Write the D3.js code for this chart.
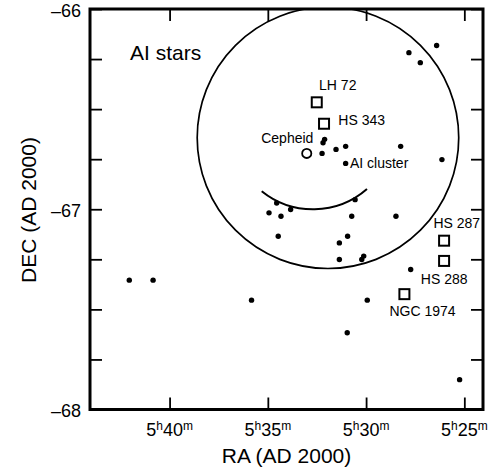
<!DOCTYPE html>
<html>
<head>
<meta charset="utf-8">
<script src="https://cdn.jsdelivr.net/npm/d3@7"></script>
<style>
    body { margin: 0; background: #fff; }
    svg { font-family: 'Liberation Sans', Arial, sans-serif; }
</style>
</head>
<body>
<svg width="497" height="470"></svg>
<script>
// RA is given in minutes past 5h, DEC in degrees
var starRA = [42.05, 40.84, 35.83, 29.94, 30.96, 25.24, 27.82, 26.41, 27.24, 28.24,
    26.14, 32.11, 32.19, 32.24, 31.53, 31.04, 31.04, 34.55, 34.94, 34.33,
    33.84, 30.56, 30.73, 34.47, 30.94, 31.36, 31.36, 30.22, 30.12, 28.48, 27.73];
var starDec = [-67.354, -67.354, -67.454, -67.454, -67.617, -67.851, -66.218, -66.182, -66.268, -66.686,
    -66.752, -66.651, -66.668, -66.721, -66.701, -66.686, -66.771, -66.969, -67.018, -67.035,
    -67.001, -66.952, -67.035, -67.135, -67.135, -67.168, -67.251, -67.251, -67.234, -67.035, -67.301];

var clusterNames = ['LH 72', 'HS 343', 'HS 287', 'HS 288', 'NGC 1974'];
var clusterRA = [32.51, 32.14, 26.03, 26.03, 28.05];
var clusterDec = [-66.466, -66.573, -67.157, -67.258, -67.424];

var cepheidRA = [33.02];
var cepheidDec = [-66.721];

// star index 16 is the AI cluster
var aiClusterIndex = 16;

// big circle (centre RA, DEC, radius in deg) and the small arc
var fieldCentre = [31.94, -66.643];
var fieldRadius = 0.653;
var arcCentre = [32.70, -66.591];
var arcRadius = 0.409;
var arcAngles = [48.8, 128.8];

var raTicks = [40, 35, 30, 25];
var decTicks = [-66, -66.25, -66.5, -66.75, -67, -67.25, -67.5, -67.75, -68];
var decLabels = [-66, -67, -68];

// label offsets (px) from their marker
var labelLayout = {
    'LH 72': {dx: 2.3, dy: -12.5, anchor: 'start'},
    'HS 343': {dx: 14.3, dy: 1.7, anchor: 'start'},
    'HS 287': {dx: -10.7, dy: -13.2, anchor: 'start'},
    'HS 288': {dx: -23.3, dy: 22.6, anchor: 'start'},
    'NGC 1974': {dx: -15, dy: 22, anchor: 'start'},
    'Cepheid': {dx: 6.6, dy: -10, anchor: 'end'},
    'AI cluster': {dx: 4.3, dy: 5, anchor: 'start'}
};

var svg = d3.select('svg');
var plot = {l: 90, r: 483, t: 9, b: 409.5};

var xScale = d3.scaleLinear()
    .domain([44.05, 24.05])
    .range([plot.l, plot.r]);
var yScale = d3.scaleLinear()
    .domain([-66, -68])
    .range([plot.t, plot.b]);

svg.append('clipPath')
    .attr('id', 'plotClip')
    .append('rect')
    .attr('x', plot.l)
    .attr('y', plot.t)
    .attr('width', plot.r - plot.l)
    .attr('height', plot.b - plot.t);

// Ticks: inward on all four sides
function styleAxis(g) {
    g.select('.domain').remove();
    g.selectAll('.tick line')
        .attr('stroke', '#000')
        .attr('stroke-width', 1.8);
}

svg.append('g')
    .attr('transform', 'translate(0,' + plot.b + ')')
    .call(d3.axisBottom(xScale).tickValues(raTicks).tickSize(-12).tickFormat(''))
    .call(styleAxis);
svg.append('g')
    .attr('transform', 'translate(0,' + plot.t + ')')
    .call(d3.axisTop(xScale).tickValues(raTicks).tickSize(-12).tickFormat(''))
    .call(styleAxis);
svg.append('g')
    .attr('transform', 'translate(' + plot.l + ',0)')
    .call(d3.axisLeft(yScale).tickValues(decTicks).tickSize(-12).tickFormat(''))
    .call(styleAxis);
svg.append('g')
    .attr('transform', 'translate(' + plot.r + ',0)')
    .call(d3.axisRight(yScale).tickValues(decTicks).tickSize(-12).tickFormat(''))
    .call(styleAxis);

// RA tick labels with superscript h and m
svg.selectAll('.ra-label')
    .data(raTicks)
    .enter()
    .append('text')
    .attr('class', 'ra-label')
    .attr('x', function(d) { return xScale(d); })
    .attr('y', 436)
    .attr('text-anchor', 'middle')
    .style('font-size', '18px')
    .each(function(d) {
        var t = d3.select(this);
        t.append('tspan').text('5');
        t.append('tspan').attr('dy', -6.5).style('font-size', '12px').text('h');
        t.append('tspan').attr('dy', 6.5).text(d);
        t.append('tspan').attr('dy', -6.5).style('font-size', '12px').text('m');
    });

// DEC tick labels
svg.selectAll('.dec-label')
    .data(decLabels)
    .enter()
    .append('text')
    .attr('class', 'dec-label')
    .attr('x', 81)
    .attr('y', function(d) { return yScale(d) + 7.5; })
    .attr('text-anchor', 'end')
    .style('font-size', '18px')
    .text(function(d) { return '\u2013' + Math.abs(d); });

// Axis titles
svg.append('text')
    .attr('x', (plot.l + plot.r) / 2)
    .attr('y', 463)
    .attr('text-anchor', 'middle')
    .style('font-size', '21px')
    .text('RA (AD 2000)');
svg.append('text')
    .attr('transform', 'translate(36,210) rotate(-90)')
    .attr('text-anchor', 'middle')
    .style('font-size', '21px')
    .text('DEC (AD 2000)');

var chartG = svg.append('g')
    .attr('clip-path', 'url(#plotClip)');

// Big circle
chartG.append('circle')
    .attr('cx', xScale(fieldCentre[0]))
    .attr('cy', yScale(fieldCentre[1]))
    .attr('r', yScale(fieldCentre[1] - fieldRadius) - yScale(fieldCentre[1]))
    .attr('fill', 'none')
    .attr('stroke', '#000')
    .attr('stroke-width', 1.7);

// Small arc
var arcPath = d3.path();
arcPath.arc(xScale(arcCentre[0]), yScale(arcCentre[1]),
    yScale(arcCentre[1] - arcRadius) - yScale(arcCentre[1]),
    arcAngles[0] * Math.PI / 180, arcAngles[1] * Math.PI / 180);
chartG.append('path')
    .attr('d', arcPath.toString())
    .attr('fill', 'none')
    .attr('stroke', '#000')
    .attr('stroke-width', 2);

// Stars
chartG.selectAll('.star')
    .data(starRA)
    .enter()
    .append('circle')
    .attr('class', 'star')
    .attr('cx', function(d) { return xScale(d); })
    .attr('cy', function(d, i) { return yScale(starDec[i]); })
    .attr('r', 2.7)
    .attr('fill', '#000');

// Clusters (squares)
var clusterG = chartG.selectAll('.cluster')
    .data(clusterNames)
    .enter()
    .append('g')
    .attr('class', 'cluster')
    .attr('transform', function(d, i) {
        return 'translate(' + [xScale(clusterRA[i]), yScale(clusterDec[i])] + ')';
    });
clusterG.append('rect')
    .attr('x', -5)
    .attr('y', -5)
    .attr('width', 10)
    .attr('height', 10)
    .attr('fill', '#fff')
    .attr('stroke', '#000')
    .attr('stroke-width', 2);
clusterG.append('text')
    .attr('x', function(d) { return labelLayout[d].dx; })
    .attr('y', function(d) { return labelLayout[d].dy; })
    .attr('text-anchor', function(d) { return labelLayout[d].anchor; })
    .style('font-size', '14px')
    .text(function(d) { return d; });

// Cepheid
var cepheidG = chartG.append('g')
    .attr('transform', 'translate(' + [xScale(cepheidRA[0]), yScale(cepheidDec[0])] + ')');
cepheidG.append('circle')
    .attr('r', 4.6)
    .attr('fill', '#fff')
    .attr('stroke', '#000')
    .attr('stroke-width', 1.8);
cepheidG.append('text')
    .attr('x', labelLayout['Cepheid'].dx)
    .attr('y', labelLayout['Cepheid'].dy)
    .attr('text-anchor', 'end')
    .style('font-size', '14px')
    .text('Cepheid');

// AI cluster label
chartG.append('text')
    .attr('x', xScale(starRA[aiClusterIndex]) + labelLayout['AI cluster'].dx)
    .attr('y', yScale(starDec[aiClusterIndex]) + labelLayout['AI cluster'].dy)
    .style('font-size', '14px')
    .text('AI cluster');

// Panel title
chartG.append('text')
    .attr('x', 130)
    .attr('y', 60)
    .style('font-size', '21px')
    .text('AI stars');

// Frame
svg.append('rect')
    .attr('x', plot.l)
    .attr('y', plot.t)
    .attr('width', plot.r - plot.l)
    .attr('height', plot.b - plot.t)
    .attr('fill', 'none')
    .attr('stroke', '#000')
    .attr('stroke-width', 3);
</script>
</body>
</html>
